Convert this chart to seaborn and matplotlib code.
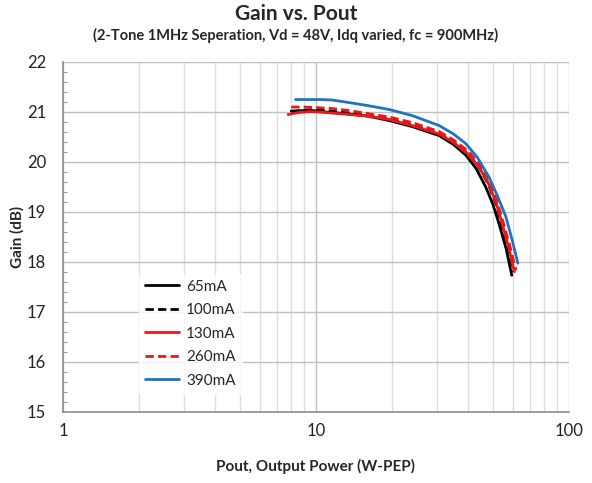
import numpy as np
import pandas as pd
import matplotlib
matplotlib.use("Agg")
import matplotlib.pyplot as plt
import seaborn as sns
from matplotlib.ticker import MultipleLocator, FixedLocator, NullFormatter

# ---- data ----
p_65 = [7.98, 9.0, 9.7, 11.0, 13.0, 16.0, 19.5, 24.0, 30.7, 35.0, 39.1, 43.0, 46.9, 50.0, 52.9, 56.5, 59.4]
g_65 = [21.01, 21.02, 21.02, 20.99, 20.96, 20.91, 20.82, 20.70, 20.52, 20.34, 20.13, 19.86, 19.49, 19.15, 18.76, 18.25, 17.73]

p_100 = [8.0, 9.0, 10.0, 11.5, 13.0, 16.0, 19.5, 24.0, 30.7, 35.0, 39.5, 44.0, 48.0, 51.5, 54.5, 57.5, 60.3]
g_100 = [20.99, 21.03, 21.04, 21.01, 20.98, 20.93, 20.85, 20.73, 20.56, 20.39, 20.18, 19.90, 19.55, 19.15, 18.70, 18.25, 17.80]

p_130 = [7.76, 8.5, 9.5, 11.0, 13.0, 16.0, 19.5, 24.0, 30.7, 35.0, 39.5, 44.0, 48.0, 51.5, 54.5, 57.8, 60.8]
g_130 = [20.94, 20.98, 21.00, 20.98, 20.95, 20.91, 20.84, 20.72, 20.55, 20.38, 20.17, 19.90, 19.57, 19.18, 18.75, 18.28, 17.80]

p_260 = [7.98, 9.0, 10.0, 11.6, 13.5, 16.0, 19.5, 24.0, 30.7, 35.0, 40.0, 44.5, 48.5, 52.0, 55.0, 58.5, 61.7]
g_260 = [21.09, 21.09, 21.08, 21.06, 21.02, 20.96, 20.89, 20.78, 20.60, 20.43, 20.21, 19.94, 19.60, 19.20, 18.78, 18.30, 17.83]

p_390 = [8.3, 9.5, 10.5, 11.6, 13.5, 16.0, 19.5, 24.0, 30.7, 35.0, 39.1, 43.5, 48.3, 52.0, 56.3, 59.5, 62.8]
g_390 = [21.24, 21.24, 21.24, 21.23, 21.18, 21.12, 21.04, 20.92, 20.72, 20.55, 20.36, 20.08, 19.69, 19.33, 18.90, 18.45, 17.97]

labels = ["65mA", "100mA", "130mA", "260mA", "390mA"]
x_ticks = [1, 10, 100]
y_ticks = [15, 16, 17, 18, 19, 20, 21, 22]

series = [p_65, p_100, p_130, p_260, p_390]
gains = [g_65, g_100, g_130, g_260, g_390]
rows = []
for lab, ps, gs in zip(labels, series, gains):
    for p, g in zip(ps, gs):
        rows.append({"Pout": p, "Gain": g, "Idq": lab})
df = pd.DataFrame(rows)

sns.set_theme(style="white")
plt.rcParams["font.family"] = ["Lato", "DejaVu Sans"]

fig = plt.figure(figsize=(5.92, 4.83), dpi=100)
ax = fig.add_axes([63 / 592, 1 - 412 / 483, (569 - 63) / 592, (412 - 61.5) / 483])

palette = {"65mA": "#000000", "100mA": "#000000", "130mA": "#e8191c",
           "260mA": "#e8191c", "390mA": "#1f74c0"}
dashes = {"65mA": "", "100mA": (3, 1.5), "130mA": "", "260mA": (3, 1.5), "390mA": ""}

sns.lineplot(data=df, x="Pout", y="Gain", hue="Idq", style="Idq",
             palette=palette, dashes=dashes, hue_order=labels, style_order=labels,
             linewidth=2.0, ax=ax, sort=False, estimator=None)

ax.set_xscale("log")
ax.set_xlim(1, 100)
ax.set_ylim(15, 22)
ax.xaxis.set_major_locator(FixedLocator(x_ticks))
ax.set_xticklabels([str(t) for t in x_ticks])
ax.xaxis.set_minor_locator(FixedLocator([m * d for d in (1, 10) for m in range(2, 10)]))
ax.xaxis.set_minor_formatter(NullFormatter())
ax.yaxis.set_major_locator(FixedLocator(y_ticks))
ax.set_yticklabels([str(t) for t in y_ticks])
ax.yaxis.set_minor_locator(MultipleLocator(0.2))

ax.grid(True, which="major", axis="both", color="#c0c0c0", linewidth=1.0)
ax.grid(True, which="minor", axis="x", color="#dcdcdc", linewidth=1.0)
ax.set_axisbelow(True)

for s in ["top", "right"]:
    ax.spines[s].set_visible(False)
for s in ["left", "bottom"]:
    ax.spines[s].set_color("#8c8c8c")
    ax.spines[s].set_linewidth(1.2)

ax.tick_params(axis="x", which="both", length=0, labelsize=12, pad=8, colors="#222222")
ax.tick_params(axis="y", which="major", length=0, labelsize=12, pad=12, colors="#222222")
ax.tick_params(axis="y", which="minor", direction="in", length=3, color="#a0a0a0", width=0.8, left=True)

ax.set_xlabel("Pout, Output Power (W-PEP)", fontsize=11, fontweight="bold", labelpad=14)
ax.set_ylabel("Gain (dB)", fontsize=11, fontweight="bold", labelpad=2)

fig.text(0.5, 1 - 14 / 483, "Gain vs. Pout", ha="center", va="center",
         fontsize=15, fontweight="bold")
fig.text(0.5, 1 - 35 / 483, "(2-Tone 1MHz Seperation, Vd = 48V, Idq varied, fc = 900MHz)",
         ha="center", va="center", fontsize=10.5, fontweight="bold")

leg = ax.legend(loc="upper left", bbox_to_anchor=(0.15, 0.395), frameon=True,
                fontsize=11, handlelength=2.2, labelspacing=0.62, handletextpad=0.5,
                borderaxespad=0)
leg.get_frame().set_facecolor("white")
leg.get_frame().set_edgecolor("white")

fig.savefig("out.png", dpi=100)
